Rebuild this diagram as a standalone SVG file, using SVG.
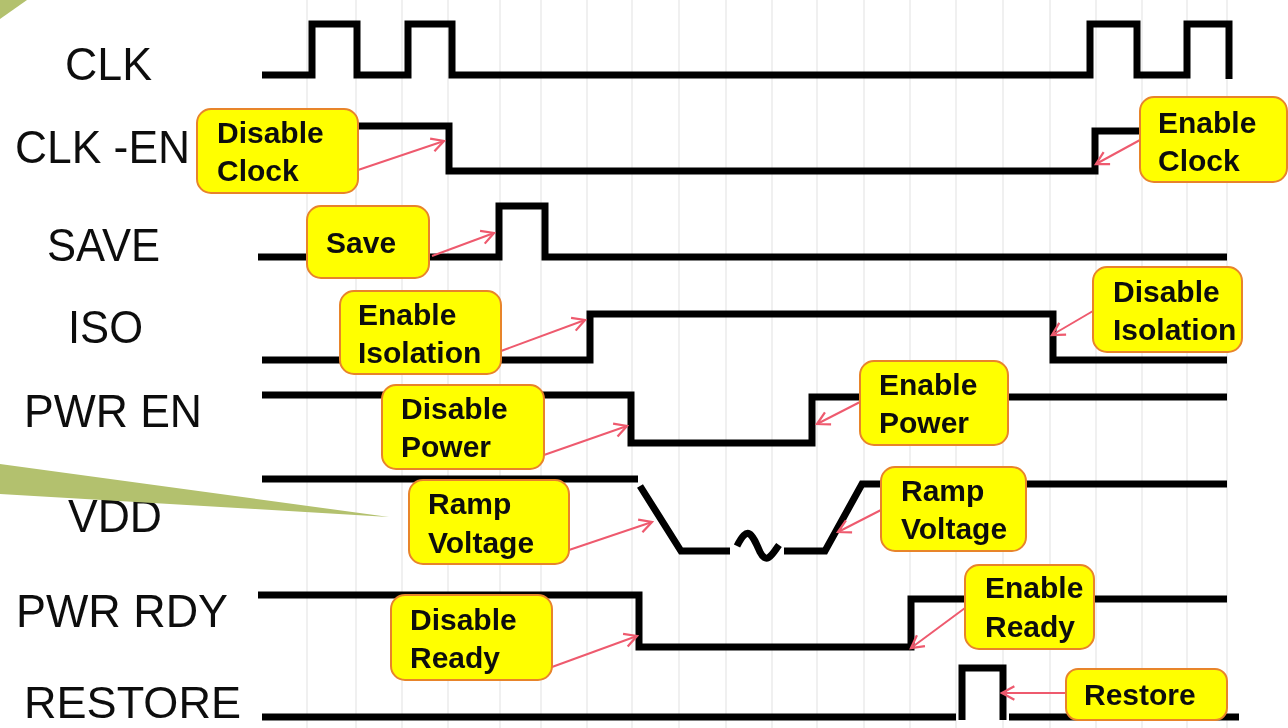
<svg xmlns="http://www.w3.org/2000/svg" width="1288" height="728" viewBox="0 0 1288 728">
<style>
.grid{stroke:#f0f0f0;stroke-width:2;fill:none}
.sig{stroke:#000;stroke-width:7;fill:none;stroke-linejoin:miter;stroke-linecap:butt}
.lab{font-family:"Liberation Sans",Arial,sans-serif;font-size:47px;fill:#111}
.box{fill:#ffff00;stroke:#e8842c;stroke-width:2}
.txt{font-family:"Liberation Sans",Arial,sans-serif;font-size:30px;font-weight:700;fill:#111}
.arr{stroke:#ee5a6e;stroke-width:2;fill:none;marker-end:url(#open)}
.leaf{fill:#b3c16e}
</style>
<defs>
<marker id="open" markerUnits="userSpaceOnUse" markerWidth="18" markerHeight="18" refX="14" refY="8" orient="auto" viewBox="0 0 16 16">
<path d="M3 2 L14 8 L3 14" fill="none" stroke="#ee5a6e" stroke-width="2"/>
</marker>
<filter id="soft" x="0" y="0" width="1288" height="728" filterUnits="userSpaceOnUse"><feGaussianBlur stdDeviation="0.7"/></filter>
</defs>
<rect width="1288" height="728" fill="#fff"/>
<g filter="url(#soft)">
<g id="grid" class="grid">
<path d="M307 0V728M356 0V728M402 0V728M448 0V728M500 0V728M541 0V728M587 0V728M632 0V728M679 0V728M726 0V728M772 0V728M817 0V728M864 0V728M910 0V728M956 0V728M1003 0V728M1050 0V728M1096 0V728M1142 0V728M1187 0V728M1227 0V728"/>
</g>
<g id="signals">
<path id="sig-clk" class="sig" d="M262 75H312V24H357V75H408V24H452V75H1090V24H1137V75H1187V24H1229V79"/>
<path id="sig-clk-en" class="sig" d="M358 126H449V171H1095V131H1142"/>
<path id="sig-save" class="sig" d="M258 257H499V206H545V257H1227"/>
<path id="sig-iso" class="sig" d="M262 360H590V314H1053V360H1227"/>
<path id="sig-pwr-en" class="sig" d="M262 395H631V443H812V397H1227"/>
<path id="sig-vdd" class="sig" d="M262 479H638M640 486L681 551H730M737 546C748 524 752 534 760 552C767 566 773 553 779 545M784 551H825L862 484H1227"/>
<path id="sig-pwr-rdy" class="sig" d="M258 595H639V647H911V599H1227"/>
<path id="sig-restore" class="sig" d="M262 717H956M962 720V668H1003V720M1009 717H1239"/>
</g>
<g id="labels">
<text id="l-clk" class="lab" x="65" y="80" textLength="87" lengthAdjust="spacingAndGlyphs">CLK</text>
<text id="l-clk-en" class="lab" x="15" y="163" textLength="175" lengthAdjust="spacingAndGlyphs">CLK -EN</text>
<text id="l-save" class="lab" x="47" y="261" textLength="113" lengthAdjust="spacingAndGlyphs">SAVE</text>
<text id="l-iso" class="lab" x="68" y="343" textLength="75" lengthAdjust="spacingAndGlyphs">ISO</text>
<text id="l-pwr-en" class="lab" x="24" y="427" textLength="178" lengthAdjust="spacingAndGlyphs">PWR EN</text>
<text id="l-vdd" class="lab" x="68" y="532" textLength="94" lengthAdjust="spacingAndGlyphs">VDD</text>
<text id="l-pwr-rdy" class="lab" x="16" y="627" textLength="212" lengthAdjust="spacingAndGlyphs">PWR RDY</text>
<text id="l-restore" class="lab" x="24" y="718" style="font-size:45px" textLength="217" lengthAdjust="spacingAndGlyphs">RESTORE</text>
</g>
<g id="connectors">
<path class="arr" d="M358 170L444 141"/>
<path class="arr" d="M1140 140L1096 164"/>
<path class="arr" d="M432 256L494 233"/>
<path class="arr" d="M501 351L585 320"/>
<path class="arr" d="M1093 311L1052 335"/>
<path class="arr" d="M544 455L627 426"/>
<path class="arr" d="M860 402L817 424"/>
<path class="arr" d="M569 550L652 522"/>
<path class="arr" d="M881 510L838 532"/>
<path class="arr" d="M552 667L637 636"/>
<path class="arr" d="M965 608L911 648"/>
<path class="arr" d="M1066 693L1002 693"/>
</g>
<g id="n-disable-clock"><rect class="box" x="197" y="109" width="161" height="84" rx="14"/><text class="txt" x="217" y="143">Disable</text><text class="txt" x="217" y="181">Clock</text></g>
<g id="n-enable-clock"><rect class="box" x="1140" y="97" width="147" height="85" rx="14"/><text class="txt" x="1158" y="133">Enable</text><text class="txt" x="1158" y="171">Clock</text></g>
<g id="n-save"><rect class="box" x="307" y="206" width="122" height="72" rx="14"/><text class="txt" x="326" y="253">Save</text></g>
<g id="n-enable-isolation"><rect class="box" x="340" y="291" width="161" height="83" rx="14"/><text class="txt" x="358" y="325">Enable</text><text class="txt" x="358" y="363">Isolation</text></g>
<g id="n-disable-isolation"><rect class="box" x="1093" y="267" width="149" height="85" rx="14"/><text class="txt" x="1113" y="302">Disable</text><text class="txt" x="1113" y="340">Isolation</text></g>
<g id="n-disable-power"><rect class="box" x="382" y="385" width="162" height="84" rx="14"/><text class="txt" x="401" y="419">Disable</text><text class="txt" x="401" y="457">Power</text></g>
<g id="n-enable-power"><rect class="box" x="860" y="361" width="148" height="84" rx="14"/><text class="txt" x="879" y="395">Enable</text><text class="txt" x="879" y="433">Power</text></g>
<g id="n-ramp-down"><rect class="box" x="409" y="480" width="160" height="84" rx="14"/><text class="txt" x="428" y="514">Ramp</text><text class="txt" x="428" y="553">Voltage</text></g>
<g id="n-ramp-up"><rect class="box" x="881" y="467" width="145" height="84" rx="14"/><text class="txt" x="901" y="501">Ramp</text><text class="txt" x="901" y="539">Voltage</text></g>
<g id="n-disable-ready"><rect class="box" x="391" y="595" width="161" height="85" rx="14"/><text class="txt" x="410" y="630">Disable</text><text class="txt" x="410" y="668">Ready</text></g>
<g id="n-enable-ready"><rect class="box" x="965" y="565" width="129" height="84" rx="14"/><text class="txt" x="985" y="598">Enable</text><text class="txt" x="985" y="637">Ready</text></g>
<g id="n-restore"><rect class="box" x="1066" y="669" width="161" height="51" rx="12"/><text class="txt" x="1084" y="705">Restore</text></g>
<g id="decor">
<polygon class="leaf" points="0,0 27,0 0,19"/>
<polygon class="leaf" points="0,464 389,517 0,494"/>
</g>
</g>
</svg>
